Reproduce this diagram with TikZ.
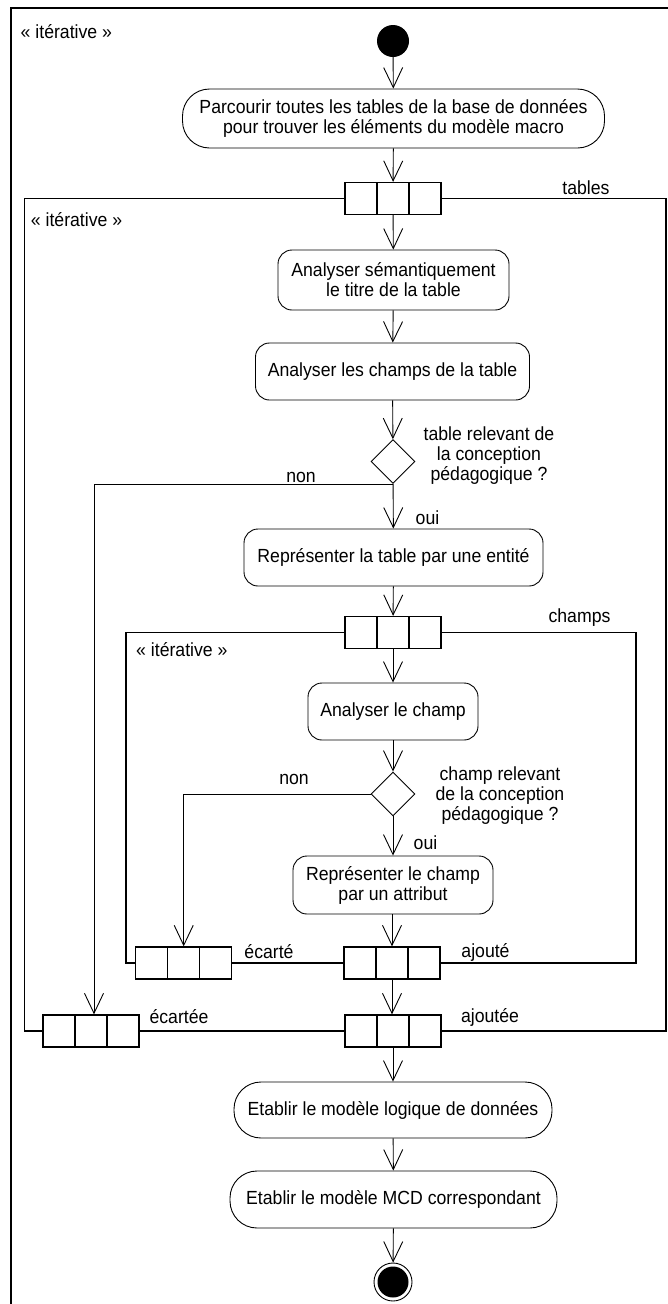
\documentclass[tikz,border=0pt]{standalone}
\usepackage{fontspec}
\setmainfont{Liberation Sans}[FakeStretch=0.93]
\usetikzlibrary{arrows.meta,shapes.geometric}
\tikzset{
  every node/.style={font=\fontsize{19}{20}\selectfont},
  action/.style={draw, line width=0.9pt, rounded corners=14pt, align=center, inner sep=0pt},
  stadium/.style={action, rounded corners=27pt},
  flow/.style={line width=0.9pt, -{Straight Barb[length=20pt,width=19pt,line width=0.9pt]}},
  pin/.style={draw, fill=white, line width=1.3pt, minimum width=96pt, minimum height=32pt, inner sep=0pt,
    path picture={
      \draw[line width=1.3pt] ([xshift=32pt]path picture bounding box.north west) -- ([xshift=32pt]path picture bounding box.south west);
      \draw[line width=1.3pt] ([xshift=-32pt]path picture bounding box.north east) -- ([xshift=-32pt]path picture bounding box.south east);}},
  decision/.style={diamond, draw, line width=0.9pt, aspect=1, minimum width=44pt, minimum height=44pt, inner sep=0pt},
  frameline/.style={line width=1.3pt},
  lbl/.style={inner sep=0pt, align=center},
}
\begin{document}
\begin{tikzpicture}[x=1pt,y=-1pt]
\useasboundingbox (0,0) rectangle (668,1304);
% outer frame (clipped on right and bottom)
\draw[frameline] (11,1304) -- (11,8) -- (668,8);
\node[lbl, anchor=west] (it1) at (20.5,31.7) {« itérative »};
% frames
\draw[frameline] (24.3,198.5) rectangle (666,1031);
\draw[frameline] (126,632.5) rectangle (636,963);
\node[lbl, anchor=west] (it2) at (30.7,220) {« itérative »};
\node[lbl, anchor=west] (it3) at (136,650) {« itérative »};

% nodes
\node[circle, fill=black, minimum size=32pt, inner sep=0pt] (start) at (393,41) {};
\node[stadium, minimum width=422pt, minimum height=59pt] (a1) at (393.5,118.5)
  {Parcourir toutes les tables de la base de données\\pour trouver les éléments du modèle macro};
\node[pin] (p1) at (393,198.5) {};
\node[lbl] (ltables) at (586,188) {tables};
\node[action, minimum width=231pt, minimum height=60pt] (a2) at (393.5,280)
  {Analyser sémantiquement\\le titre de la table};
\node[action, minimum width=274pt, minimum height=57pt] (a3) at (392.5,371.5)
  {Analyser les champs de la table};
\node[decision] (d1) at (393,461.5) {};
\node[lbl] (ld1) at (489,456) {table relevant de\\la conception\\pédagogique ?};
\node[lbl] (non1) at (301,477) {non};
\node[lbl] (oui1) at (427.5,518) {oui};
\node[action, minimum width=299pt, minimum height=57pt] (a4) at (393.5,557.5)
  {Représenter la table par une entité};
\node[pin] (p2) at (393,632.5) {};
\node[lbl] (lchamps) at (579.5,618) {champs};
\node[action, minimum width=170pt, minimum height=57pt] (a5) at (393,711.5)
  {Analyser le champ};
\node[decision] (d2) at (393,794) {};
\node[lbl] (ld2) at (500,796) {champ relevant\\de la conception\\pédagogique ?};
\node[lbl] (non2) at (294,779) {non};
\node[lbl] (oui2) at (425.5,843) {oui};
\node[action, minimum width=200pt, minimum height=58pt] (a6) at (393,885)
  {Représenter le champ\\par un attribut};
\node[pin] (p3) at (183.7,963) {};
\node[pin] (p4) at (392,963) {};
\node[lbl] (lecarte) at (269,952) {écarté};
\node[lbl] (lajoute) at (485.5,952) {ajouté};
\node[pin] (p6) at (91,1031) {};
\node[pin] (p5) at (393,1031) {};
\node[lbl] (lecartee) at (179,1017) {écartée};
\node[lbl] (lajoutee) at (490,1017) {ajoutée};
\node[stadium, minimum width=318pt, minimum height=56pt] (a7) at (393,1110)
  {Etablir le modèle logique de données};
\node[stadium, minimum width=327pt, minimum height=57pt] (a8) at (393.5,1199.5)
  {Etablir le modèle MCD correspondant};
\node[circle, draw, line width=0.9pt, minimum size=38pt, inner sep=0pt,
  path picture={\fill (path picture bounding box.center) circle (15.5pt);}] (end) at (393,1282) {};

% connectors
\draw[flow] (start) -- (a1);
\draw[flow] (a1) -- (p1);
\draw[flow] (p1) -- (a2);
\draw[flow] (a2) -- (a3);
\draw[flow] (a3) -- (d1);
\draw[flow] (d1) -- (a4);
\draw[flow] (d1.south) -| ([xshift=3pt]p6.north);
\draw[flow] (a4) -- (p2);
\draw[flow] (p2) -- (a5);
\draw[flow] (a5) -- (d2);
\draw[flow] (d2) -- (a6);
\draw[flow] (d2.west) -| (p3.north);
\draw[flow] (a6.south -| p4.north) -- (p4.north);
\draw[flow] (p4.south) -- (p4.south |- p5.north);
\draw[flow] (p5) -- (a7);
\draw[flow] (a7) -- (a8);
\draw[flow] (a8) -- (end);
\end{tikzpicture}
\end{document}
